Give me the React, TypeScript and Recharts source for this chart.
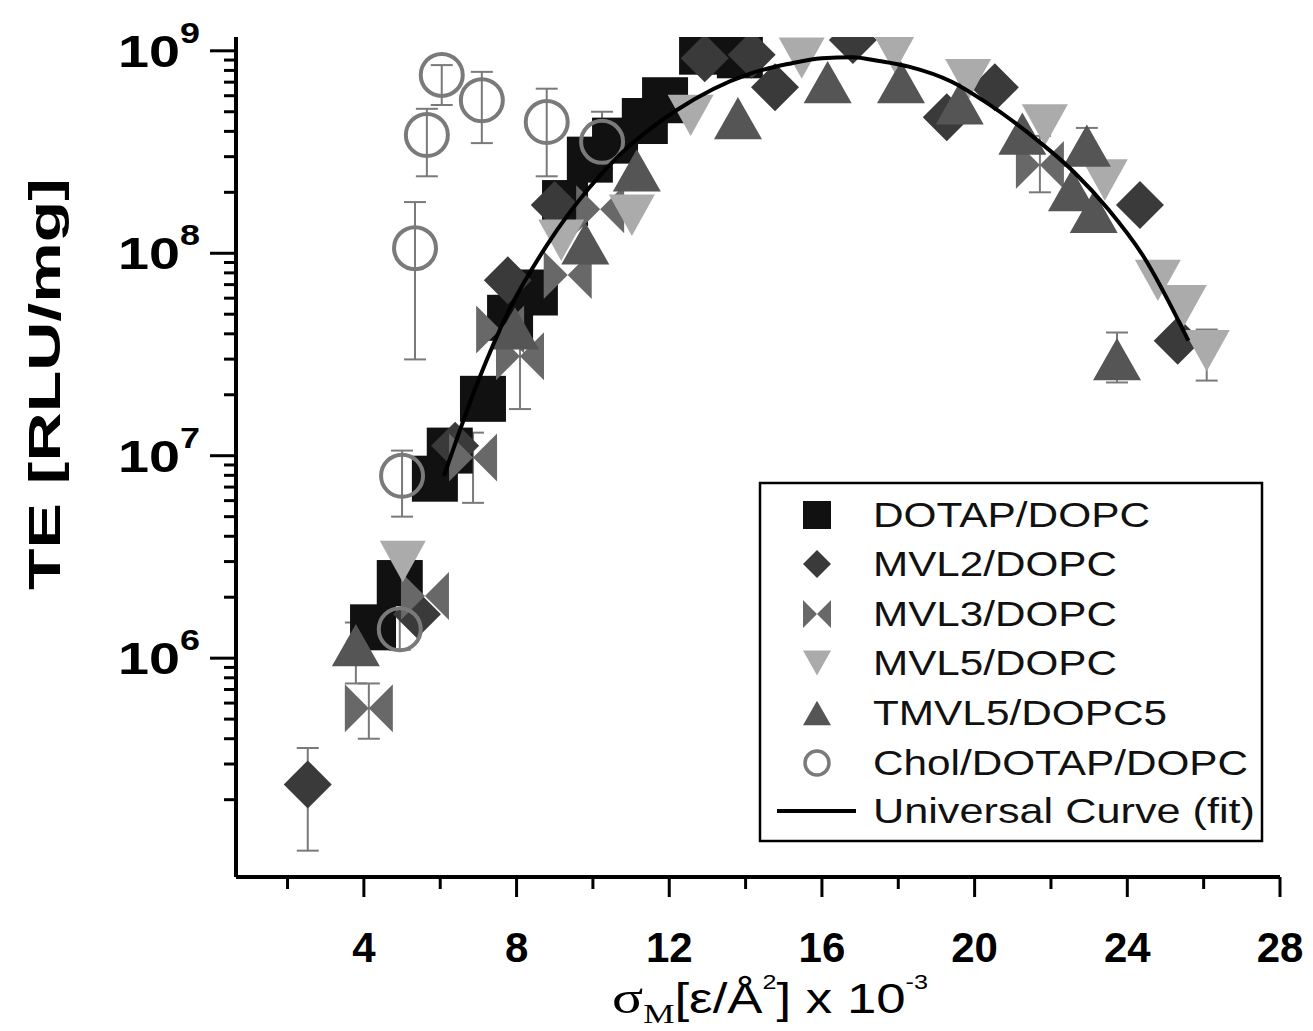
import React from 'react';
import { ComposedChart, Scatter, Line, XAxis, YAxis, ErrorBar } from 'recharts';

const W = 1313;
const H = 1031;

// ---------- data ----------
type P = { x: number; y: number; lo?: number; hi?: number };

const dotapDopc: P[] = [
  { x: 4.24, y: 1.42e6 }, { x: 4.94, y: 2.35e6 }, { x: 5.86, y: 7.7e6 }, { x: 6.25, y: 1.06e7 },
  { x: 7.12, y: 1.91e7 }, { x: 7.83, y: 4.8e7 }, { x: 8.48, y: 6.4e7 }, { x: 9.27, y: 1.77e8 },
  { x: 9.92, y: 2.9e8 }, { x: 10.58, y: 3.6e8 }, { x: 11.36, y: 4.5e8 }, { x: 11.89, y: 5.7e8 },
  { x: 12.86, y: 9.9e8 }, { x: 13.85, y: 9.5e8 },
];

const mvl2Dopc: P[] = [
  { x: 2.53, y: 2.38e5, lo: 1.12e5, hi: 3.6e5 }, { x: 5.39, y: 1.65e6 }, { x: 6.39, y: 1.12e7 },
  { x: 7.77, y: 7.35e7 }, { x: 9.0, y: 1.73e8 }, { x: 12.93, y: 9.2e8 }, { x: 14.16, y: 9.55e8 },
  { x: 14.77, y: 6.6e8 }, { x: 16.81, y: 1.13e9 }, { x: 19.27, y: 4.7e8 }, { x: 20.53, y: 6.6e8 },
  { x: 24.33, y: 1.73e8 }, { x: 25.32, y: 3.7e7 },
];

const mvl3Dopc: P[] = [
  { x: 4.13, y: 5.65e5, lo: 4.0e5, hi: 7.5e5 }, { x: 5.6, y: 2.03e6 },
  { x: 6.86, y: 9.8e6, lo: 5.85e6, hi: 1.3e7 }, { x: 7.57, y: 4.2e7 },
  { x: 8.09, y: 3.1e7, lo: 1.7e7, hi: 5.6e7 }, { x: 9.34, y: 7.8e7 }, { x: 10.19, y: 1.65e8 },
  { x: 21.71, y: 2.73e8, lo: 2.0e8, hi: 3.8e8 },
];

const mvl5Dopc: P[] = [
  { x: 5.02, y: 3.0e6 }, { x: 9.17, y: 1.16e8 }, { x: 11.02, y: 1.54e8 }, { x: 12.56, y: 4.8e8 },
  { x: 15.47, y: 9.2e8 }, { x: 17.9, y: 9.9e8 }, { x: 19.83, y: 7.2e8 }, { x: 21.84, y: 4.3e8 },
  { x: 23.41, y: 2.3e8 }, { x: 24.8, y: 7.35e7 }, { x: 25.48, y: 5.5e7 },
  { x: 26.08, y: 3.3e7, lo: 2.35e7, hi: 4.2e7 },
];

const tmvl5Dopc5: P[] = [
  { x: 3.79, y: 1.16e6, lo: 7.5e5, hi: 1.5e6 }, { x: 7.96, y: 4.26e7 }, { x: 9.8, y: 1.12e8 },
  { x: 11.15, y: 2.57e8 }, { x: 13.8, y: 4.65e8 }, { x: 16.15, y: 7.0e8 }, { x: 18.07, y: 7.0e8 },
  { x: 19.61, y: 5.5e8 }, { x: 21.25, y: 3.9e8 }, { x: 22.55, y: 2.05e8 },
  { x: 22.94, y: 3.4e8, lo: 2.8e8, hi: 4.16e8 }, { x: 23.12, y: 1.6e8 },
  { x: 23.73, y: 3.0e7, lo: 2.3e7, hi: 4.06e7 },
];

const cholDotapDopc: P[] = [
  { x: 6.04, y: 7.6e8, lo: 5.4e8, hi: 8.5e8 }, { x: 5.65, y: 3.84e8, lo: 2.4e8, hi: 5.17e8 },
  { x: 7.09, y: 5.7e8, lo: 3.5e8, hi: 7.87e8 }, { x: 8.79, y: 4.45e8, lo: 2.4e8, hi: 6.5e8 },
  { x: 10.24, y: 3.55e8, lo: 2.6e8, hi: 5.0e8 }, { x: 5.34, y: 1.06e8, lo: 2.99e7, hi: 1.79e8 },
  { x: 5.0, y: 7.96e6, lo: 5.0e6, hi: 1.06e7 }, { x: 4.94, y: 1.39e6, lo: 1.1e6, hi: 1.7e6 },
];

// points read along the "Universal Curve (fit)"
const fitX = [6.1, 7.0, 7.8, 8.8, 9.9, 10.7, 12.2, 14.1, 15.1, 16.0, 16.8, 17.5, 18.3, 19.4, 20.2, 21.5, 22.6, 23.5, 24.4, 25.6];
const fitY = [7.96e6, 2.35e7, 5.22e7, 1.1e8, 2.1e8, 3.06e8, 5.1e8, 7.7e8, 8.6e8, 9.2e8, 9.3e8, 8.9e8, 8.33e8, 7.03e8, 5.72e8, 3.8e8, 2.52e8, 1.65e8, 9.8e7, 3.7e7];

const xTicks = [2, 4, 6, 8, 10, 12, 14, 16, 18, 20, 22, 24, 26, 28];
const xLabels = [4, 8, 12, 16, 20, 24, 28];
const yMajor = [1e6, 1e7, 1e8, 1e9];
const yMinorMult = [2, 3, 4, 5, 6, 7, 8, 9];
const yDecades = [1e5, 1e6, 1e7, 1e8];

const legendNames = [
  'DOTAP/DOPC', 'MVL2/DOPC', 'MVL3/DOPC', 'MVL5/DOPC', 'TMVL5/DOPC5', 'Chol/DOTAP/DOPC', 'Universal Curve (fit)',
];

// ---------- derived ----------
const withErr = (arr: P[]) =>
  arr.map((p) => ({ ...p, err: p.lo != null && p.hi != null ? [p.y - p.lo, p.hi - p.y] : undefined }));
const fitData = fitX.map((x, i) => ({ x, y: fitY[i] }));
const yTicks = [
  ...yDecades.flatMap((d) => yMinorMult.map((m) => m * d)),
  ...yMajor,
].sort((a, b) => a - b);

const SANS = '"Liberation Sans", Arial, Helvetica, sans-serif';
const SERIF = '"Liberation Serif", "Times New Roman", serif';

const C_SQ = '#111111';
const C_DIA = '#3a3a3a';
const C_BOW = '#686868';
const C_DN = '#ababab';
const C_UP = '#555555';
const C_CIR = '#7a7a7a';

// ---------- marker shapes ----------
const Square = ({ cx, cy, s = 46 }: any) => <rect x={cx - s / 2} y={cy - s / 2} width={s} height={s} fill={C_SQ} />;
const Diamond = ({ cx, cy, s = 48 }: any) => {
  const h = s / 2;
  return <path d={`M${cx},${cy - h}L${cx + h},${cy}L${cx},${cy + h}L${cx - h},${cy}Z`} fill={C_DIA} />;
};
const Bowtie = ({ cx, cy, s = 48 }: any) => {
  const h = s / 2;
  return (
    <path
      d={`M${cx - h},${cy - h}L${cx},${cy}L${cx - h},${cy + h}ZM${cx + h},${cy - h}L${cx},${cy}L${cx + h},${cy + h}Z`}
      fill={C_BOW}
    />
  );
};
const DownTri = ({ cx, cy, s = 46 }: any) => {
  const h = s / 2;
  const v = s * 0.45;
  return <path d={`M${cx - h},${cy - v}L${cx + h},${cy - v}L${cx},${cy + v}Z`} fill={C_DN} />;
};
const UpTri = ({ cx, cy, s = 48 }: any) => {
  const h = s / 2;
  const v = s * 0.44;
  return <path d={`M${cx - h},${cy + v}L${cx + h},${cy + v}L${cx},${cy - v}Z`} fill={C_UP} />;
};
const OpenCircle = ({ cx, cy, s = 46 }: any) => (
  <circle cx={cx} cy={cy} r={s / 2 - 2} fill="none" stroke={C_CIR} strokeWidth={s > 30 ? 4 : 3.5} />
);

// ---------- ticks ----------
const XTick = ({ x, y, payload }: any) => {
  const v = payload.value;
  const major = v % 4 === 0;
  return (
    <g>
      <line x1={x} x2={x} y1={y} y2={y + (major ? 20 : 12)} stroke="#000" strokeWidth={3} />
      {xLabels.includes(v) && (
        <text x={x} y={y + 85} textAnchor="middle" fontFamily={SANS} fontWeight="bold" fontSize={42} fill="#000">
          {v}
        </text>
      )}
    </g>
  );
};

const YTick = ({ x, y, payload }: any) => {
  const v = payload.value;
  const lg = Math.log10(v);
  const e = Math.round(lg);
  const major = Math.abs(lg - e) < 1e-6;
  return (
    <g>
      <line x1={x} x2={x - (major ? 26 : 12)} y1={y} y2={y} stroke="#000" strokeWidth={3} />
      {major && yMajor.includes(v) && (
        <text
          x={x - 36}
          y={y + 16}
          textAnchor="end"
          fontFamily={SANS}
          fontWeight="bold"
          fontSize={45}
          fill="#000"
          textLength={82}
          lengthAdjust="spacingAndGlyphs"
        >
          <tspan>10</tspan>
          <tspan dy={-24} fontSize={29}>{e}</tspan>
        </text>
      )}
    </g>
  );
};

const errProps = { dataKey: 'err', direction: 'y' as const, width: 11, stroke: '#7a7a7a', strokeWidth: 2 };

// ---------- legend ----------
const LegendBox = () => {
  const left = 760;
  const top = 483;
  const right = 1262;
  const bottom = 841;
  const baselines = [527, 576, 626, 675, 725, 775, 823];
  const widths = [277, 244, 244, 244, 294, 375, 382];
  const mx = 817;
  const markers = [Square, Diamond, Bowtie, DownTri, UpTri, OpenCircle];
  return (
    <g>
      <rect x={left} y={top} width={right - left} height={bottom - top} fill="#fff" stroke="#000" strokeWidth={2.5} />
      {legendNames.map((name, i) => {
        const cy = baselines[i] - 12;
        const M = markers[i];
        return (
          <g key={name}>
            {M ? <M cx={mx} cy={cy} s={28} /> : <line x1={777} x2={856} y1={cy} y2={cy} stroke="#000" strokeWidth={4} />}
            <text
              x={873}
              y={baselines[i]}
              fontFamily={SANS}
              fontSize={35}
              fill="#111"
              textLength={widths[i]}
              lengthAdjust="spacingAndGlyphs"
            >
              {name}
            </text>
          </g>
        );
      })}
    </g>
  );
};

export default function App() {
  return (
    <div style={{ position: 'absolute', left: 0, top: 0, width: W, height: H, background: '#fff' }}>
      <ComposedChart width={W} height={H} margin={{ top: 37, right: 33, bottom: 0, left: 0 }}>
        <XAxis
          type="number"
          dataKey="x"
          domain={[0.65, 28]}
          ticks={xTicks}
          interval={0}
          allowDataOverflow
          height={154}
          tickSize={0}
          tickMargin={0}
          tickLine={false}
          tick={<XTick />}
          axisLine={{ stroke: '#000', strokeWidth: 4 }}
        />
        <YAxis
          type="number"
          dataKey="y"
          scale="log"
          domain={[8.3e4, 1.17e9]}
          ticks={yTicks}
          interval={0}
          allowDataOverflow
          width={236}
          tickSize={0}
          tickMargin={0}
          tickLine={false}
          tick={<YTick />}
          axisLine={{ stroke: '#000', strokeWidth: 4 }}
        />
        <Scatter name="DOTAP/DOPC" data={withErr(dotapDopc)} isAnimationActive={false} shape={(p: any) => <Square cx={p.cx} cy={p.cy} />}>
          <ErrorBar {...errProps} />
        </Scatter>
        <Scatter name="MVL2/DOPC" data={withErr(mvl2Dopc)} isAnimationActive={false} shape={(p: any) => <Diamond cx={p.cx} cy={p.cy} />}>
          <ErrorBar {...errProps} />
        </Scatter>
        <Scatter name="MVL3/DOPC" data={withErr(mvl3Dopc)} isAnimationActive={false} shape={(p: any) => <Bowtie cx={p.cx} cy={p.cy} />}>
          <ErrorBar {...errProps} />
        </Scatter>
        <Scatter name="MVL5/DOPC" data={withErr(mvl5Dopc)} isAnimationActive={false} shape={(p: any) => <DownTri cx={p.cx} cy={p.cy} />}>
          <ErrorBar {...errProps} />
        </Scatter>
        <Scatter name="TMVL5/DOPC5" data={withErr(tmvl5Dopc5)} isAnimationActive={false} shape={(p: any) => <UpTri cx={p.cx} cy={p.cy} />}>
          <ErrorBar {...errProps} />
        </Scatter>
        <Scatter name="Chol/DOTAP/DOPC" data={withErr(cholDotapDopc)} isAnimationActive={false} shape={(p: any) => <OpenCircle cx={p.cx} cy={p.cy} />}>
          <ErrorBar {...errProps} />
        </Scatter>
        <Line
          name="Universal Curve (fit)"
          data={fitData}
          dataKey="y"
          type="monotone"
          stroke="#000"
          strokeWidth={4}
          dot={false}
          activeDot={false}
          isAnimationActive={false}
          {...({ zIndex: 700 } as any)}
        />
      </ComposedChart>
      <svg width={W} height={H} style={{ position: 'absolute', left: 0, top: 0, pointerEvents: 'none' }}>
        <text
          transform="translate(60,384) rotate(-90)"
          textAnchor="middle"
          fontFamily={SANS}
          fontWeight="bold"
          fontSize={44}
          fill="#000"
          textLength={412}
          lengthAdjust="spacingAndGlyphs"
        >
          TE [RLU/mg]
        </text>
        <text
          x={612}
          y={1013}
          fontFamily={SANS}
          fontSize={42}
          fill="#000"
          textLength={316}
          lengthAdjust="spacingAndGlyphs"
        >
          <tspan fontFamily={SERIF} fontSize={46}>σ</tspan>
          <tspan fontFamily={SERIF} fontSize={28} dy={10}>M</tspan>
          <tspan dy={-10}>[ε/Å</tspan>
          <tspan fontSize={20} dy={-24}>2</tspan>
          <tspan dy={24}>] x 10</tspan>
          <tspan fontSize={20} dy={-24}>-3</tspan>
        </text>
        <LegendBox />
      </svg>
    </div>
  );
}
